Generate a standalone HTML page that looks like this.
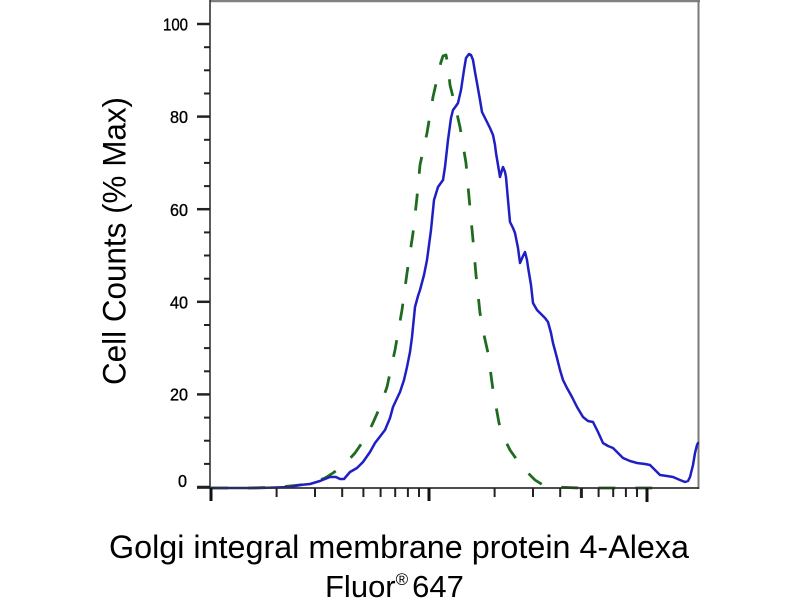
<!DOCTYPE html>
<html>
<head>
<meta charset="utf-8">
<style>
  html, body { margin: 0; padding: 0; background: #ffffff; }
  body { width: 800px; height: 600px; overflow: hidden; }
  svg { display: block; }
  text { font-family: "Liberation Sans", Arial, sans-serif; fill: #000; }
</style>
</head>
<body>
<svg width="800" height="600" viewBox="0 0 800 600" xmlns="http://www.w3.org/2000/svg">
  <rect x="0" y="0" width="800" height="600" fill="#ffffff"/>

  <!-- frame -->
  <line x1="210" y1="1" x2="700" y2="1" stroke="#808080" stroke-width="2.4"/>
  <line x1="698.5" y1="0" x2="698.5" y2="489" stroke="#7a7a7a" stroke-width="2"/>

  <!-- series: green dashed -->
  <polyline fill="none" stroke="#1f6b1f" stroke-width="2.8" stroke-dasharray="17 20" stroke-linejoin="round"
    points="211,488 250,488 280,487 300,485 315,482 325,478 333,473 345,464 355,453 364,440 372,425 380,407 387,387 395,350 402,310 407,273 413,233 417,197 420,165 427,133 433,97 438,75 441,62 443,56 446,55 448,65 450,85 455,105 460,127 466,163 469,197 473,240 476,275 480,313 484,335 488,353 493,390 499,423 505,440 510,450 517,460 525,470 535,480 543,485 555,487 580,488 668,488"/>

  <!-- series: blue solid -->
  <polyline fill="none" stroke="#1f1fc4" stroke-width="2.5" stroke-linejoin="round" stroke-linecap="round"
    points="211,488 260,488 290,487 300,485 310,484 320,481 330,477 336,477 340,479 344,479 350,472 357,468 363,462 370,452 375,443 385,430 390,418 393,407 400,392 404,380 407,367 410,352 412,337 415,307 418,296 420,290 424,275 427,260 431,230 434,200 438,187 443,180 445,167 448,140 451,118 453,110 456,106 458,103 461,90 464,70 466,58 469,54 471,55 473,60 475,72 477,83 480,100 482,112 485,118 487,122 490,128 493,135 495,145 496,153 498,165 500,177 502,170 503,167 505,172 506,177 508,200 510,222 513,228 515,233 518,248 520,263 523,256 525,252 527,260 528,267 531,285 533,303 537,310 540,313 545,318 548,322 551,333 553,343 557,358 560,370 563,380 567,388 572,397 577,407 583,417 588,421 593,422 598,432 603,443 608,446 613,448 618,453 623,458 630,461 637,463 645,464 650,465 655,470 660,475 667,476 673,477 680,480 685,482 688,481 690,477 693,465 695,453 697,445 698,443"/>

  <!-- axes -->
  <line x1="210" y1="0" x2="210" y2="489" stroke="#333" stroke-width="1.6"/>
  <line x1="197" y1="488" x2="699" y2="488" stroke="#333" stroke-width="1.8"/>

  <!-- y ticks -->
  <g stroke="#222" stroke-width="2.5">
    <line x1="197" y1="24" x2="210" y2="24"/>
    <line x1="197" y1="116.6" x2="210" y2="116.6"/>
    <line x1="197" y1="209.2" x2="210" y2="209.2"/>
    <line x1="197" y1="301.8" x2="210" y2="301.8"/>
    <line x1="197" y1="394.4" x2="210" y2="394.4"/>
    <line x1="197" y1="487" x2="210" y2="487"/>
  </g>
  <g stroke="#222" stroke-width="2">
    <line x1="204" y1="47.2" x2="210" y2="47.2"/>
    <line x1="204" y1="70.3" x2="210" y2="70.3"/>
    <line x1="204" y1="93.5" x2="210" y2="93.5"/>
    <line x1="204" y1="139.8" x2="210" y2="139.8"/>
    <line x1="204" y1="162.9" x2="210" y2="162.9"/>
    <line x1="204" y1="186.1" x2="210" y2="186.1"/>
    <line x1="204" y1="232.4" x2="210" y2="232.4"/>
    <line x1="204" y1="255.5" x2="210" y2="255.5"/>
    <line x1="204" y1="278.7" x2="210" y2="278.7"/>
    <line x1="204" y1="325" x2="210" y2="325"/>
    <line x1="204" y1="348.1" x2="210" y2="348.1"/>
    <line x1="204" y1="371.3" x2="210" y2="371.3"/>
    <line x1="204" y1="417.6" x2="210" y2="417.6"/>
    <line x1="204" y1="440.7" x2="210" y2="440.7"/>
    <line x1="204" y1="463.9" x2="210" y2="463.9"/>
  </g>

  <!-- y tick labels -->
  <g font-size="17.5" text-anchor="end" stroke="#000" stroke-width="0.35">
    <text x="188" y="30.3" textLength="25" lengthAdjust="spacingAndGlyphs">100</text>
    <text x="188" y="123" textLength="18" lengthAdjust="spacingAndGlyphs">80</text>
    <text x="188" y="215.8" textLength="18" lengthAdjust="spacingAndGlyphs">60</text>
    <text x="188" y="308.6" textLength="18" lengthAdjust="spacingAndGlyphs">40</text>
    <text x="188" y="400.5" textLength="18" lengthAdjust="spacingAndGlyphs">20</text>
    <text x="187" y="487" textLength="9" lengthAdjust="spacingAndGlyphs">0</text>
  </g>

  <!-- x ticks (log) -->
  <g stroke="#111" stroke-width="3">
    <line x1="211" y1="488" x2="211" y2="501"/>
    <line x1="429" y1="488" x2="429" y2="501"/>
    <line x1="647" y1="488" x2="647" y2="502"/>
  </g>
  <g stroke="#222" stroke-width="2">
    <line x1="276.6" y1="488" x2="276.6" y2="497"/>
    <line x1="315" y1="488" x2="315" y2="497"/>
    <line x1="342.2" y1="488" x2="342.2" y2="497"/>
    <line x1="363.4" y1="488" x2="363.4" y2="497"/>
    <line x1="380.6" y1="488" x2="380.6" y2="497"/>
    <line x1="395.2" y1="488" x2="395.2" y2="497"/>
    <line x1="407.9" y1="488" x2="407.9" y2="497"/>
    <line x1="419" y1="488" x2="419" y2="497"/>
    <line x1="494.6" y1="488" x2="494.6" y2="497"/>
    <line x1="533" y1="488" x2="533" y2="497"/>
    <line x1="560.2" y1="488" x2="560.2" y2="497"/>
    <line x1="581.4" y1="488" x2="581.4" y2="498" stroke-width="3"/>
    <line x1="598.6" y1="488" x2="598.6" y2="497"/>
    <line x1="613.2" y1="488" x2="613.2" y2="497"/>
    <line x1="625.9" y1="488" x2="625.9" y2="497"/>
    <line x1="637" y1="488" x2="637" y2="497"/>
  </g>

  <!-- y axis title -->
  <text transform="translate(125.5,241) rotate(-90)" text-anchor="middle" font-size="32" textLength="288" lengthAdjust="spacingAndGlyphs">Cell Counts (% Max)</text>

  <!-- x axis title -->
  <text x="109" y="558" font-size="32" textLength="580" lengthAdjust="spacingAndGlyphs">Golgi integral membrane protein 4-Alexa</text>
  <text x="325" y="597" font-size="31">Fluor<tspan font-size="17" dy="-12">®</tspan><tspan dy="12" dx="4">647</tspan></text>
</svg>
</body>
</html>
